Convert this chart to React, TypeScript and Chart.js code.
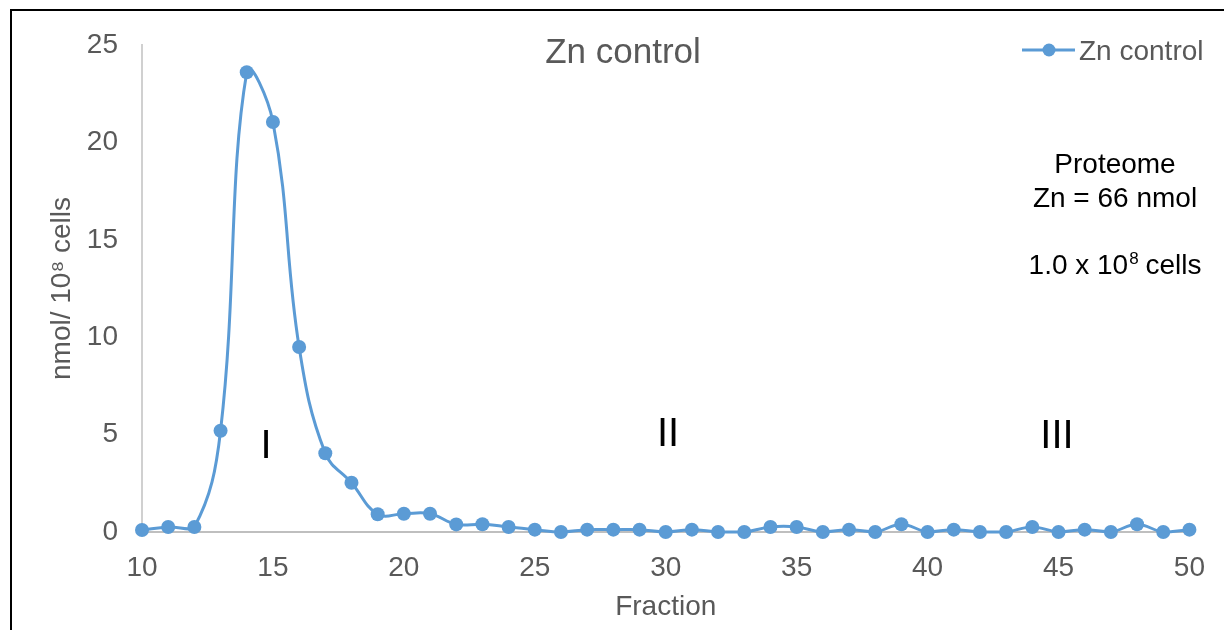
import React, { useEffect, useRef } from "react";
import { Chart, registerables } from "chart.js";

Chart.register(...registerables);

const fractions = [10, 11, 12, 13, 14, 15, 16, 17, 18, 19, 20, 21, 22, 23, 24, 25, 26, 27, 28, 29, 30, 31, 32, 33, 34, 35, 36, 37, 38, 39, 40, 41, 42, 43, 44, 45, 46, 47, 48, 49, 50];
const znControl = [0.1, 0.26, 0.26, 5.2, 23.6, 21.05, 9.5, 4.04, 2.53, 0.91, 0.94, 0.94, 0.39, 0.4, 0.26, 0.12, 0, 0.12, 0.12, 0.12, 0, 0.12, 0, 0, 0.26, 0.26, 0, 0.12, 0, 0.4, 0, 0.12, 0, 0, 0.26, 0, 0.12, 0, 0.4, 0, 0.12];
const seriesName = "Zn control";
const chartTitle = "Zn control";
const xAxisTitle = "Fraction";
const yAxisTitle = "nmol/ 10\u2078 cells";
const regionLabels = ["I", "II", "III"];
const noteLines = ["Proteome", "Zn = 66 nmol"];

const BLUE = "#5B9BD5";
const GRAY_TEXT = "#595959";
const FONT = "'Liberation Sans', Arial, sans-serif";

const overlayPlugin = {
  id: "overlay",
  beforeDraw(chart: any) {
    const ctx = chart.ctx;
    ctx.save();
    ctx.fillStyle = "#ffffff";
    ctx.fillRect(0, 0, chart.width, chart.height);
    ctx.strokeStyle = "#000000";
    ctx.lineWidth = 2;
    ctx.beginPath();
    ctx.moveTo(11, chart.height);
    ctx.lineTo(11, 10);
    ctx.lineTo(chart.width, 10);
    ctx.stroke();
    ctx.restore();
  },
  afterDraw(chart: any) {
    const ctx = chart.ctx;
    ctx.save();
    // title
    ctx.fillStyle = GRAY_TEXT;
    ctx.font = `35px ${FONT}`;
    ctx.textAlign = "center";
    ctx.textBaseline = "middle";
    ctx.fillText(chartTitle, 623, 53);

    // legend
    ctx.strokeStyle = BLUE;
    ctx.lineWidth = 3;
    ctx.beginPath();
    ctx.moveTo(1022, 50);
    ctx.lineTo(1075, 50);
    ctx.stroke();
    ctx.fillStyle = BLUE;
    ctx.beginPath();
    ctx.arc(1049, 50, 6.5, 0, Math.PI * 2);
    ctx.fill();
    ctx.fillStyle = GRAY_TEXT;
    ctx.font = `28px ${FONT}`;
    ctx.textAlign = "left";
    ctx.fillText(seriesName, 1079, 52);

    // notes
    ctx.fillStyle = "#000000";
    ctx.textAlign = "center";
    ctx.font = `28px ${FONT}`;
    ctx.fillText(noteLines[0], 1115, 165);
    ctx.fillText(noteLines[1], 1115, 199);
    // 1.0 x 10^8 cells
    const a = "1.0 x 10";
    const s = "8";
    const b = " cells";
    ctx.font = `28px ${FONT}`;
    const wa = ctx.measureText(a).width;
    const wb = ctx.measureText(b).width;
    ctx.font = `17px ${FONT}`;
    const ws = ctx.measureText(s).width;
    const x0 = 1115 - (wa + ws + wb) / 2;
    ctx.textAlign = "left";
    ctx.font = `28px ${FONT}`;
    ctx.fillText(a, x0, 266);
    ctx.font = `17px ${FONT}`;
    ctx.fillText(s, x0 + wa + 1, 259);
    ctx.font = `28px ${FONT}`;
    ctx.fillText(b, x0 + wa + ws, 266);

    // region labels
    ctx.textAlign = "center";
    ctx.font = `40px ${FONT}`;
    ctx.fillText(regionLabels[0], 266, 447);
    ctx.fillText(regionLabels[1], 668, 435);
    ctx.fillText(regionLabels[2], 1057, 437);
    ctx.restore();
  },
};

export default function App() {
  const canvasRef = useRef<HTMLCanvasElement | null>(null);

  useEffect(() => {
    document.body.style.margin = "0";
    const canvas = canvasRef.current;
    if (!canvas) return;
    const chart = new Chart(canvas, {
      type: "line",
      data: {
        datasets: [
          {
            label: seriesName,
            data: fractions.map((f, i) => ({ x: f, y: znControl[i] })),
            borderColor: BLUE,
            backgroundColor: BLUE,
            borderWidth: 3,
            pointRadius: 7,
            pointHoverRadius: 7,
            pointBackgroundColor: BLUE,
            pointBorderColor: BLUE,
            pointBorderWidth: 0,
            tension: 0.4,
            fill: false,
            clip: false,
          },
        ],
      },
      options: {
        animation: false,
        responsive: false,
        maintainAspectRatio: false,
        layout: { padding: { top: 45, right: 34, left: 0, bottom: 0 } },
        plugins: {
          legend: { display: false },
          title: { display: false },
          tooltip: { enabled: false },
        },
        scales: {
          x: {
            type: "linear",
            min: 10,
            max: 50,
            afterFit: (s: any) => {
              s.height = 98;
            },
            ticks: {
              stepSize: 5,
              color: GRAY_TEXT,
              font: { size: 28, family: FONT },
              padding: 19,
              maxRotation: 0,
            },
            grid: { display: false, drawTicks: false },
            border: { display: true, color: "#BFBFBF", width: 2 },
            title: {
              display: true,
              text: xAxisTitle,
              color: GRAY_TEXT,
              font: { size: 28, family: FONT },
              padding: { top: 0, bottom: 6 },
            },
          },
          y: {
            min: 0,
            max: 25,
            afterFit: (s: any) => {
              s.width = 142;
            },
            ticks: {
              stepSize: 5,
              color: GRAY_TEXT,
              font: { size: 28, family: FONT },
              padding: 24,
            },
            grid: { display: false, drawTicks: false },
            border: { display: true, color: "#D0D0D0", width: 2 },
            title: {
              display: true,
              text: yAxisTitle,
              color: GRAY_TEXT,
              font: { size: 28, family: FONT },
              padding: { top: 45, bottom: 0 },
            },
          },
        },
      },
      plugins: [overlayPlugin],
    });
    return () => chart.destroy();
  }, []);

  return (
    <div style={{ position: "fixed", left: 0, top: 0, width: 1224, height: 630 }}>
      <canvas ref={canvasRef} width={1224} height={630} style={{ width: 1224, height: 630, display: "block" }} />
    </div>
  );
}
